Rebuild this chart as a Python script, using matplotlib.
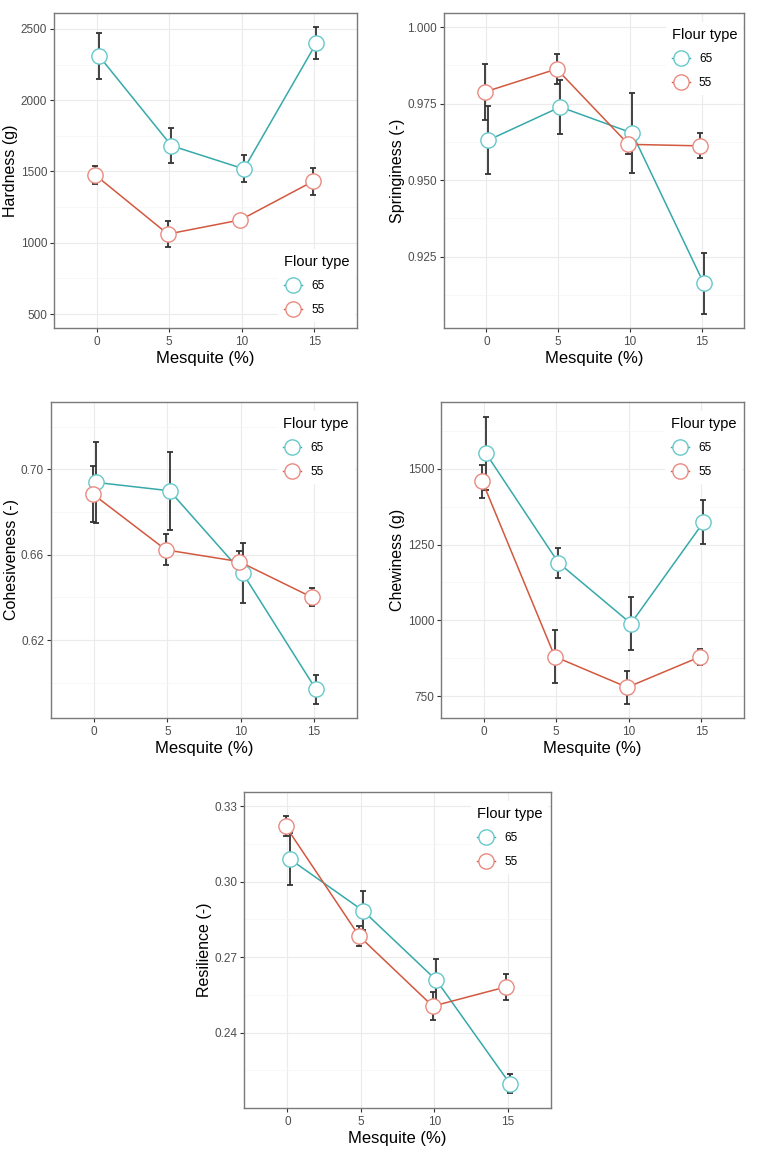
import numpy as np
import matplotlib
matplotlib.use("Agg")
import matplotlib.pyplot as plt

plt.rcParams['font.family'] = ['Liberation Sans', 'DejaVu Sans']

mesquite = [0, 5, 10, 15]
flour_types = ['65', '55']

hardness_65 = [2311, 1681, 1518, 2402]
hardness_65_se = [162, 124, 95, 115]
hardness_55 = [1475, 1061, 1160, 1430]
hardness_55_se = [61, 89, 15, 96]

spring_65 = [0.9631, 0.9739, 0.9654, 0.9163]
spring_65_se = [0.0111, 0.0088, 0.0131, 0.0100]
spring_55 = [0.9788, 0.9863, 0.9617, 0.9612]
spring_55_se = [0.0091, 0.0050, 0.0032, 0.0041]

cohes_65 = [0.6939, 0.6900, 0.6513, 0.5969]
cohes_65_se = [0.0190, 0.0182, 0.0140, 0.0067]
cohes_55 = [0.6885, 0.6623, 0.6568, 0.6400]
cohes_55_se = [0.0131, 0.0073, 0.0051, 0.0042]

chew_65 = [1550, 1190, 990, 1323]
chew_65_se = [121, 50, 88, 72]
chew_55 = [1458, 881, 780, 880]
chew_55_se = [55, 88, 54, 25]

resil_65 = [0.3091, 0.2885, 0.2608, 0.2197]
resil_65_se = [0.0104, 0.0078, 0.0085, 0.0038]
resil_55 = [0.3220, 0.2783, 0.2505, 0.2582]
resil_55_se = [0.0040, 0.0040, 0.0055, 0.0052]

line_cols = {'65': '#36A9AB', '55': '#D2583F'}
edge_cols = {'65': '#66C8CA', '55': '#E98A80'}
dodge = {'65': 0.15, '55': -0.1}

W, H = 759, 1150
fig = plt.figure(figsize=(W / 100, H / 100), dpi=100)


def box(l, r, t, b):
    return [l / W, 1 - b / H, (r - l) / W, (b - t) / H]


def panel(rect, series, ylabel, ylim, yticks, yminor, fmt, leg_loc):
    ax = fig.add_axes(rect)
    x = np.array(mesquite, dtype=float)
    for ft, (vals, se) in zip(flour_types, series):
        xs = x + dodge[ft]
        ax.errorbar(xs, vals, yerr=se, fmt='none', ecolor='#333333',
                    elinewidth=1.3, capsize=2, capthick=1.3, zorder=3)
        ax.plot(xs, vals, color=line_cols[ft], lw=1.1, zorder=4)
        ax.plot(xs, vals, marker='o', ms=11, mfc='white', mec=edge_cols[ft],
                mew=1.0, linestyle='none', zorder=5)
    ax.set_xlim(-2.95, 17.95)
    ax.set_ylim(*ylim)
    ax.set_xticks(mesquite)
    ax.set_yticks(yticks)
    ax.set_yticklabels([fmt.format(v) for v in yticks])
    ax.set_yticks(yminor, minor=True)
    ax.grid(True, which='major', color='#EBEBEB', lw=0.8, zorder=0)
    ax.grid(True, which='minor', axis='y', color='#F4F4F4', lw=0.5, zorder=0)
    ax.set_axisbelow(True)
    for s in ax.spines.values():
        s.set_color('#7A7A7A')
        s.set_linewidth(1.0)
    ax.tick_params(which='major', length=3, width=0.8, color='#333333',
                   labelsize=8.5, labelcolor='#4D4D4D', pad=2)
    ax.tick_params(axis='x', pad=3)
    ax.tick_params(which='minor', length=0)
    ax.set_xlabel('Mesquite (%)', fontsize=12, labelpad=2)
    ax.set_ylabel(ylabel, fontsize=11.5, labelpad=1.5)

    lh = [plt.Line2D([], [], color=line_cols[ft], lw=1.0, marker='o', ms=11,
                     mfc='white', mec=edge_cols[ft], mew=1.0)
          for ft in flour_types]
    if leg_loc == 'bottom':
        kw = dict(loc='lower left', bbox_to_anchor=(0.72, 0.0))
    else:
        kw = dict(loc='upper left', bbox_to_anchor=(0.72, 0.99))
    leg = ax.legend(lh, flour_types, title='Flour type', fontsize=8.5,
                    title_fontsize=10.5, frameon=True, facecolor='white',
                    edgecolor='none', framealpha=1, fancybox=False,
                    handlelength=1.5, handletextpad=0.8, labelspacing=1.0,
                    borderpad=0.5, **kw)
    leg._legend_box.align = 'left'
    leg._legend_box.sep = 8
    leg.set_zorder(10)
    return ax


panel(box(54, 357, 13, 328), [(hardness_65, hardness_65_se), (hardness_55, hardness_55_se)],
      'Hardness (g)', (402, 2612), [500, 1000, 1500, 2000, 2500],
      [750, 1250, 1750, 2250], '{:.0f}', 'bottom')

panel(box(444, 744, 13, 328), [(spring_65, spring_65_se), (spring_55, spring_55_se)],
      'Springiness (-)', (0.90175, 1.00457), [0.925, 0.950, 0.975, 1.000],
      [0.9125, 0.9375, 0.9625, 0.9875], '{:.3f}', 'top')

panel(box(51, 357, 402, 718), [(cohes_65, cohes_65_se), (cohes_55, cohes_55_se)],
      'Cohesiveness (-)', (0.5835, 0.7316), [0.62, 0.66, 0.70],
      [0.60, 0.64, 0.68, 0.72], '{:.2f}', 'top')

panel(box(441, 744, 402, 718), [(chew_65, chew_65_se), (chew_55, chew_55_se)],
      'Chewiness (g)', (679, 1719), [750, 1000, 1250, 1500],
      [875, 1125, 1375, 1625], '{:.0f}', 'top')

panel(box(244, 551, 792, 1108), [(resil_65, resil_65_se), (resil_55, resil_55_se)],
      'Resilience (-)', (0.2100, 0.3357), [0.24, 0.27, 0.30, 0.33],
      [0.225, 0.255, 0.285, 0.315], '{:.2f}', 'top')

fig.savefig('out.png', dpi=100, facecolor='white')
